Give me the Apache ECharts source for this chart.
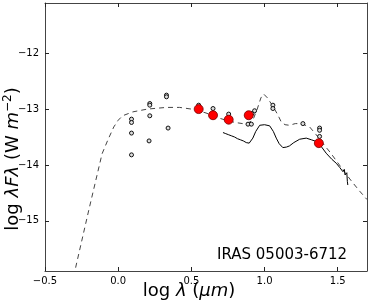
<!DOCTYPE html>
<html>
<head>
<meta charset="utf-8">
<script src="https://cdn.jsdelivr.net/npm/echarts@6/dist/echarts.min.js"></script>
<style>html,body{margin:0;padding:0;background:#fff}#c{width:371px;height:303px}</style>
</head>
<body>
<div id="c"></div>
<script>
// ---- data ----
var modelX = [-0.30, -0.29, -0.20, -0.11, -0.07, -0.03, 0.00, 0.03, 0.10, 0.20, 0.33, 0.42, 0.50, 0.55, 0.60, 0.65, 0.70, 0.75, 0.80, 0.85, 0.88, 0.92, 0.95, 0.975, 0.994, 1.02, 1.057, 1.09, 1.114, 1.14, 1.17, 1.21, 1.24, 1.27, 1.308, 1.35, 1.40, 1.45, 1.50, 1.55, 1.60, 1.65, 1.70];
var modelY = [-16.0, -15.83, -14.80, -13.80, -13.55, -13.32, -13.20, -13.12, -13.05, -13.00, -12.97, -12.97, -13.00, -13.03, -13.07, -13.12, -13.17, -13.21, -13.24, -13.26, -13.26, -13.20, -13.00, -12.80, -12.73, -12.80, -12.95, -13.10, -13.23, -13.28, -13.29, -13.26, -13.26, -13.28, -13.32, -13.45, -13.62, -13.78, -13.96, -14.14, -14.31, -14.47, -14.62];

var specX = [0.716, 0.725, 0.735, 0.745, 0.755, 0.765, 0.775, 0.785, 0.795, 0.805, 0.815, 0.825, 0.835, 0.845, 0.855, 0.865, 0.875, 0.885, 0.895, 0.905, 0.92, 0.94, 0.967, 1.00, 1.035, 1.06, 1.08, 1.10, 1.125, 1.15, 1.17, 1.20, 1.24, 1.285, 1.32, 1.353, 1.39, 1.421, 1.46, 1.49, 1.515, 1.535, 1.545, 1.55, 1.557, 1.562, 1.566, 1.569];
var specY = [-13.42, -13.40, -13.44, -13.42, -13.46, -13.44, -13.48, -13.46, -13.50, -13.48, -13.53, -13.50, -13.55, -13.53, -13.57, -13.55, -13.60, -13.57, -13.61, -13.58, -13.52, -13.40, -13.29, -13.28, -13.30, -13.40, -13.52, -13.62, -13.69, -13.68, -13.66, -13.60, -13.54, -13.52, -13.55, -13.58, -13.68, -13.79, -13.90, -13.97, -14.05, -14.12, -14.08, -14.18, -14.21, -14.14, -14.30, -14.36];

var photX = [0.091, 0.091, 0.091, 0.091, 0.216, 0.216, 0.216, 0.211, 0.33, 0.33, 0.341, 0.55, 0.648, 0.755, 0.914, 0.887, 0.91, 0.932, 1.057, 1.057, 1.262, 1.376, 1.376, 1.376];
var photY = [-13.18, -13.24, -13.43, -13.82, -12.90, -12.93, -13.12, -13.57, -12.75, -12.78, -13.34, -12.93, -12.99, -13.09, -13.08, -13.27, -13.27, -13.03, -12.93, -12.99, -13.26, -13.34, -13.38, -13.49];

var fitX = [0.55, 0.648, 0.755, 0.892, 1.371];
var fitY = [-13.00, -13.11, -13.19, -13.11, -13.61];

var xTicks = [-0.5, 0.0, 0.5, 1.0, 1.5];
var yTicks = [-15, -14, -13, -12];
var title = 'IRAS 05003-6712';

// ---- chart ----
function zip(a, b) { return a.map(function (v, i) { return [v, b[i]]; }); }
function fmtX(v) { return (v < 0 ? '\u2212' : '') + Math.abs(v).toFixed(1); }
function fmtY(v) { return (v < 0 ? '\u2212' : '') + Math.abs(Math.round(v)); }

var font = 'DejaVu Sans';
var chart = echarts.init(document.getElementById('c'), null, { renderer: 'canvas' });
function axisLine() { return { show: true, onZero: false, lineStyle: { color: '#444', width: 1 } }; }
function tick(vals) { return { show: true, inside: true, length: 4, customValues: vals, lineStyle: { color: '#222', width: 1 } }; }

chart.setOption({
  animation: false,
  backgroundColor: '#fff',
  grid: { left: 45, right: 4, top: 3, bottom: 32 },
  xAxis: [{
    type: 'value', min: -0.5, max: 1.7, position: 'bottom',
    axisLine: axisLine(), splitLine: { show: false },
    axisTick: tick(xTicks),
    axisLabel: { customValues: xTicks, formatter: fmtX, fontFamily: font, fontSize: 10, color: '#000', margin: 5 }
  }, {
    type: 'value', min: -0.5, max: 1.7, position: 'top',
    axisLine: axisLine(), splitLine: { show: false },
    axisTick: tick(xTicks),
    axisLabel: { show: false }
  }],
  yAxis: [{
    type: 'value', min: -15.9, max: -11.1, position: 'left',
    axisLine: axisLine(), splitLine: { show: false },
    axisTick: tick(yTicks),
    axisLabel: { customValues: yTicks, formatter: fmtY, fontFamily: font, fontSize: 10, color: '#000', margin: 6 }
  }, {
    type: 'value', min: -15.9, max: -11.1, position: 'right',
    axisLine: axisLine(), splitLine: { show: false },
    axisTick: tick(yTicks),
    axisLabel: { show: false }
  }],
  series: [{
    type: 'line', data: zip(modelX, modelY), showSymbol: false, symbol: 'none',
    lineStyle: { color: '#444', width: 1, type: [5, 4] }, z: 1
  }, {
    type: 'line', data: zip(specX, specY), showSymbol: false, symbol: 'none',
    lineStyle: { color: '#000', width: 1 }, z: 2
  }, {
    type: 'scatter', data: zip(photX, photY), symbol: 'circle', symbolSize: 4,
    itemStyle: { color: '#ddd', borderColor: '#111', borderWidth: 1, opacity: 1 }, z: 3
  }, {
    type: 'scatter', data: zip(fitX, fitY), symbol: 'circle', symbolSize: 9,
    itemStyle: { color: '#ff0000', borderColor: '#700', borderWidth: 0.8, opacity: 1 }, z: 4
  }],
  graphic: [{
    type: 'text', left: 217, top: 248,
    style: { text: title, font: '15px "DejaVu Sans"', fill: '#000' }
  }, {
    type: 'text', x: 189, y: 291,
    style: {
      text: '{n|log }{i|λ}{n| (}{i|μm}{n|)}', align: 'center', verticalAlign: 'middle',
      rich: {
        n: { fontFamily: font, fontSize: 18, fill: '#000' },
        i: { fontFamily: font, fontSize: 18, fontStyle: 'italic', fill: '#000' }
      }
    }
  }, {
    type: 'text', x: 13, y: 159, rotation: Math.PI / 2,
    style: {
      text: '{n|log }{i|λFλ}{n| (W }{i|m}{s|−2}{n|)}', align: 'center', verticalAlign: 'middle',
      rich: {
        n: { fontFamily: font, fontSize: 18, fill: '#000', lineHeight: 22 },
        i: { fontFamily: font, fontSize: 18, fontStyle: 'italic', fill: '#000', lineHeight: 22 },
        s: { fontFamily: font, fontSize: 12, fill: '#000', verticalAlign: 'top', lineHeight: 22 }
      }
    }
  }]
});
</script>
</body>
</html>
